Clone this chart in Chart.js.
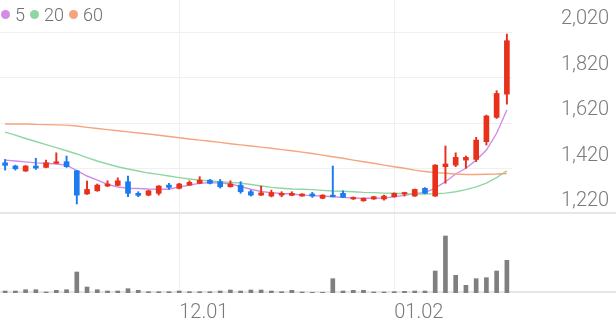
<!DOCTYPE html>
<html>
<head>
<meta charset="utf-8">
<script src="https://cdn.jsdelivr.net/npm/chart.js@4.4.1/dist/chart.umd.min.js"></script>
<style>
  body { margin: 0; background: #fff; }
  #wrap { position: relative; width: 616px; height: 321px; }
  canvas { display: block; }
  #legend {
    position: absolute; left: 1px; top: 4px;
    display: flex; align-items: center;
    font: 300 18px Roboto, sans-serif; color: #707070;
  }
  #legend .dot { width: 9px; height: 9px; border-radius: 50%; margin-right: 5px; }
  #legend .txt { margin-right: 5px; }
</style>
</head>
<body>
<div id="wrap">
  <canvas id="priceChart" width="616" height="214"></canvas>
  <canvas id="volumeChart" width="616" height="107"></canvas>
  <div id="legend"></div>
</div>
<script>
// trading days (MM.DD)
const dates = [
  "11.08","11.09","11.10","11.11","11.14","11.15","11.16","11.17","11.18","11.21",
  "11.22","11.23","11.24","11.25","11.28","11.29","11.30","12.01","12.02","12.05",
  "12.06","12.07","12.08","12.09","12.12","12.13","12.14","12.15","12.16","12.19",
  "12.20","12.21","12.22","12.23","12.26","12.27","12.28","12.29","01.02","01.03",
  "01.04","01.05","01.06","01.09","01.10","01.11","01.12","01.13","01.16","01.17"
];

const opens = [
  1445,1431,1409,1431,1425,1443,1450,1410,1308,1322,
  1343,1346,1362,1311,1303,1311,1347,1333,1347,1355,
  1369,1362,1340,1347,1318,1303,1299,1303,1302,1299,
  1308,1289,1303,1311,1286,1278,1286,1286,1296,1308,
  1299,1333,1299,1428,1435,1457,1460,1538,1645,1747
];
const highs = [
  1460,1435,1433,1465,1457,1489,1475,1412,1365,1352,
  1366,1379,1387,1318,1325,1345,1355,1355,1366,1384,
  1372,1372,1366,1362,1325,1343,1325,1318,1318,1309,
  1315,1305,1431,1322,1295,1291,1298,1303,1313,1316,
  1330,1336,1437,1519,1489,1475,1557,1655,1762,2011
];
const lows = [
  1413,1413,1407,1416,1423,1442,1425,1264,1306,1320,
  1340,1344,1296,1296,1300,1303,1329,1330,1345,1353,
  1352,1334,1338,1311,1299,1301,1295,1296,1300,1298,
  1293,1287,1295,1292,1284,1276,1284,1281,1294,1299,
  1297,1309,1297,1355,1428,1421,1450,1523,1640,1703
];
const closes = [
  1434,1419,1431,1422,1445,1449,1428,1303,1328,1347,
  1352,1366,1311,1302,1322,1343,1337,1352,1359,1369,
  1355,1340,1352,1318,1303,1313,1314,1311,1311,1308,
  1299,1303,1296,1293,1293,1289,1296,1299,1311,1314,
  1328,1311,1435,1440,1469,1469,1545,1651,1750,1982
];
const volumes = [
  20,20,33,33,10,27,33,210,60,33,
  20,20,43,27,13,13,13,20,13,13,
  13,20,30,20,30,30,20,13,27,10,
  7,7,143,20,27,27,10,10,13,17,
  20,20,220,570,177,77,143,153,220,327
];

// moving averages
const ma5 = [
  1457,1453,1449,1445,1443,1440,1435,1411,1387,1369,
  1350,1339,1333,1332,1330,1329,1329,1339,1347,1355,
  1358,1357,1352,1341,1329,1319,1314,1310,1308,1303,
  1301,1299,1296,1293,1290,1289,1289,1290,1296,1302,
  1310,1314,1334,1362,1396,1421,1457,1501,1575,1677
];
const ma20 = [
  1580,1567,1552,1539,1525,1512,1498,1484,1468,1453,
  1440,1428,1418,1409,1400,1394,1387,1380,1374,1369,
  1365,1362,1359,1356,1350,1343,1337,1333,1330,1329,
  1327,1324,1321,1320,1318,1315,1314,1312,1311,1309,
  1308,1308,1309,1312,1318,1327,1339,1356,1380,1410
];
const ma60 = [
  1616,1616,1616,1614,1613,1612,1611,1607,1601,1596,
  1591,1586,1581,1576,1572,1566,1561,1555,1550,1545,
  1540,1535,1529,1524,1519,1514,1509,1503,1498,1492,
  1486,1479,1472,1465,1457,1450,1443,1435,1428,1421,
  1413,1407,1402,1399,1396,1394,1394,1395,1396,1398
];

const priceTicks = [1220, 1420, 1620, 1820, 2020];
const maNames = ["5", "20", "60"];
const maColors = ["#d18de6", "#8fd7a2", "#f6a47f"];

const UP = "#e8301b";
const DOWN = "#1b7bef";
const GRID = "#f0f0f0";
const TEXT = "#7a7a7a";

Chart.defaults.font.family = "Roboto, sans-serif";

function isMonthStart(i) {
  return i > 0 && dates[i].slice(0, 2) !== dates[i - 1].slice(0, 2);
}

const candleColors = opens.map((o, i) => (closes[i] >= o ? UP : DOWN));

// line across the whole canvas at the bottom of the plot
const baseLine = {
  id: "baseLine",
  beforeDatasetsDraw(chart) {
    const ctx = chart.ctx;
    const y = chart.chartArea.bottom;
    ctx.save();
    ctx.strokeStyle = "#e6e6e6";
    ctx.lineWidth = 2;
    ctx.beginPath();
    ctx.moveTo(0, y - 1);
    ctx.lineTo(chart.width, y - 1);
    ctx.stroke();
    ctx.restore();
  },
};

const xGrid = {
  offset: false,
  drawTicks: false,
  color: (ctx) => (isMonthStart(ctx.index) ? GRID : "transparent"),
};

const maLine = (data, color) => ({
  type: "line",
  data: data,
  borderColor: color,
  borderWidth: 1.4,
  pointRadius: 0,
  tension: 0,
  order: 3,
});

new Chart(document.getElementById("priceChart"), {
  type: "bar",
  data: {
    labels: dates,
    datasets: [
      maLine(ma60, maColors[2]),
      maLine(ma20, maColors[1]),
      maLine(ma5, maColors[0]),
      {
        data: lows.map((l, i) => [l, highs[i]]),
        backgroundColor: candleColors,
        barThickness: 1.3,
        grouped: false,
        order: 2,
      },
      {
        data: opens.map((o, i) => [o, closes[i]]),
        backgroundColor: candleColors,
        barThickness: 5,
        minBarLength: 1.5,
        grouped: false,
        order: 1,
      },
    ],
  },
  options: {
    responsive: false,
    animation: false,
    layout: { padding: 0 },
    plugins: { legend: { display: false }, tooltip: { enabled: false } },
    scales: {
      x: {
        offset: true,
        grid: xGrid,
        border: { display: false },
        ticks: { display: false, autoSkip: false },
      },
      y: {
        position: "right",
        min: 1220,
        max: 2161,
        afterBuildTicks: (axis) => {
          axis.ticks = priceTicks.map((v) => ({ value: v }));
        },
        afterFit: (axis) => {
          axis.width = 104;
          axis.paddingTop = 0;
          axis.paddingBottom = 0;
        },
        grid: { color: GRID, drawTicks: false },
        border: { display: false },
        ticks: {
          padding: 49,
          labelOffset: -13,
          color: TEXT,
          font: { size: 20, weight: 300 },
          callback: (v) => v.toLocaleString("en-US"),
        },
      },
    },
  },
  plugins: [baseLine],
});

new Chart(document.getElementById("volumeChart"), {
  type: "bar",
  data: {
    labels: dates,
    datasets: [
      {
        data: volumes,
        backgroundColor: "#7f7f7f",
        barThickness: 4,
      },
    ],
  },
  options: {
    responsive: false,
    animation: false,
    layout: { padding: { right: 104 } },
    plugins: { legend: { display: false }, tooltip: { enabled: false } },
    scales: {
      x: {
        offset: true,
        grid: xGrid,
        border: { display: false },
        afterFit: (axis) => {
          axis.height = 28;
          axis.paddingLeft = 0;
          axis.paddingRight = 0;
        },
        ticks: {
          autoSkip: false,
          maxRotation: 0,
          align: "start",
          padding: 8,
          color: TEXT,
          font: { size: 20, weight: 300 },
          callback: (v, i) => (isMonthStart(i) ? dates[i] : ""),
        },
      },
      y: { display: false, min: 0, max: 790 },
    },
  },
  plugins: [baseLine],
});

// legend for the moving averages
document.getElementById("legend").innerHTML = maNames
  .map(
    (name, i) =>
      `<span class="dot" style="background:${maColors[i]}"></span><span class="txt">${name}</span>`
  )
  .join("");
</script>
</body>
</html>
